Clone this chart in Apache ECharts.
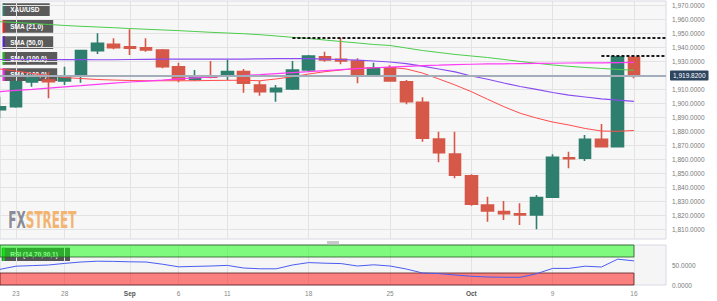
<!DOCTYPE html>
<html><head><meta charset="utf-8">
<script src="https://cdn.jsdelivr.net/npm/echarts@6/dist/echarts.min.js"></script>
<style>html,body{margin:0;padding:0;background:#fff}#c{width:717px;height:301px}</style>
</head><body><div id="c"></div>
<script>
const dates = ['2023-08-22','2023-08-23','2023-08-24','2023-08-25','2023-08-28','2023-08-29','2023-08-30','2023-08-31',
 '2023-09-01','2023-09-04','2023-09-05','2023-09-06','2023-09-07','2023-09-08','2023-09-11','2023-09-12','2023-09-13',
 '2023-09-14','2023-09-15','2023-09-18','2023-09-19','2023-09-20','2023-09-21','2023-09-22','2023-09-25','2023-09-26',
 '2023-09-27','2023-09-28','2023-09-29','2023-10-02','2023-10-03','2023-10-04','2023-10-05','2023-10-06','2023-10-09',
 '2023-10-10','2023-10-11','2023-10-12','2023-10-13','2023-10-16'];
const opens  = [1895.5,1897.6,1915.2,1916.6,1915.9,1920.2,1937.6,1942.1,1940.4,1939.7,1938.1,1926.1,1917.1,1919.5,1919.5,1922.6,1913.1,1908.3,1910.2,1923.8,1933.3,1931.4,1930.2,1920.2,1925.4,1915.4,1900.7,1874.5,1863.8,1848.3,1827.4,1822.6,1821.1,1820.2,1832.9,1861.1,1860.7,1874.3,1869.0,1932.9];
const closes = [1897.5,1915.4,1918.0,1915.4,1919.5,1937.6,1942.9,1939.7,1939.3,1938.1,1926.1,1917.1,1919.5,1918.6,1922.6,1914.3,1908.3,1910.7,1923.8,1933.8,1930.9,1930.2,1920.2,1925.0,1915.9,1901.1,1875.0,1864.7,1848.6,1827.9,1823.1,1821.1,1820.2,1832.6,1861.4,1860.4,1874.3,1869.0,1933.3,1919.8];
const lows   = [1889.3,1896.8,1911.9,1903.6,1913.0,1914.7,1935.2,1938.6,1934.5,1936.9,1925.0,1915.0,1916.1,1917.9,1916.6,1907.6,1905.4,1901.1,1909.5,1922.6,1929.7,1927.9,1914.3,1919.5,1915.4,1899.3,1872.6,1857.9,1846.4,1826.9,1815.4,1816.6,1813.1,1810.0,1832.9,1853.6,1858.8,1869.0,1868.6,1917.9];
const highs  = [1904.7,1916.5,1922.6,1922.6,1926.1,1938.2,1950.0,1946.4,1952.9,1946.4,1938.8,1929.0,1923.8,1930.2,1931.0,1924.5,1916.0,1913.1,1930.2,1934.5,1936.9,1946.9,1932.1,1929.0,1927.1,1916.6,1904.3,1879.7,1879.7,1849.3,1833.3,1830.2,1828.6,1834.5,1863.6,1865.4,1877.4,1885.2,1933.6,1933.3];
const sma21  = [1924.5,1923.1,1921.3,1919.9,1918.4,1917.7,1917.0,1916.6,1916.3,1916.1,1916.1,1916.1,1916.1,1916.3,1916.4,1916.5,1916.1,1917.4,1919.0,1920.9,1922.6,1923.8,1925.0,1925.4,1925.7,1924.5,1921.6,1917.4,1913.1,1908.3,1902.9,1897.6,1892.9,1889.5,1886.6,1884.5,1882.0,1880.2,1880.0,1880.6];
const sma50  = [1931.3,1931.3,1931.3,1931.3,1931.2,1931.2,1931.1,1931.1,1931.3,1931.4,1931.5,1931.6,1931.6,1931.6,1931.6,1931.6,1931.8,1931.9,1932.0,1931.9,1931.6,1931.3,1930.8,1930.2,1929.5,1928.4,1926.6,1924.5,1922.4,1919.5,1917.2,1914.5,1912.0,1909.9,1907.7,1905.9,1904.5,1903.1,1902.2,1901.4];
const sma100 = [1958.3,1957.7,1957.0,1956.3,1955.6,1955.0,1954.5,1954.0,1953.4,1952.9,1952.4,1951.9,1951.3,1950.7,1950.2,1949.7,1949.0,1948.1,1947.1,1946.3,1945.2,1944.1,1943.1,1942.0,1941.3,1939.5,1937.7,1936.3,1934.9,1933.8,1932.7,1931.3,1929.9,1928.6,1927.4,1926.4,1925.6,1924.9,1924.2,1923.6];
const sma200 = [1908.3,1909.2,1910.0,1910.9,1911.8,1912.6,1913.5,1914.4,1915.2,1915.9,1916.6,1917.4,1918.1,1918.8,1919.4,1919.9,1920.5,1921.2,1921.9,1922.6,1923.4,1924.1,1924.8,1925.4,1925.9,1926.4,1926.9,1927.2,1927.6,1927.9,1928.1,1928.2,1928.4,1928.5,1928.6,1928.8,1928.9,1928.9,1929.1,1929.2];
const rsi    = [39,47,48.5,50,54,57.5,59.5,59,58,57.5,52,45.5,46.5,47.5,49,42.5,40.5,40.5,50,56,54.5,53.5,47.5,50.5,47.5,40,30,28.5,25,21.8,20,19.3,19.2,28,41.5,41.5,47,45,64.6,60.3];
const xTickIdx  = [1,4,8,11,14,19,24,29,34,39];
const xTickText = ['23','28','Sep','6','11','18','25','Oct','9','16'];
const yTicks = [1810,1820,1830,1840,1850,1860,1870,1880,1890,1900,1910,1920,1930,1940,1950,1960,1970];
const rsiTicks = [0,50];
const lastPrice = 1919.82;
const levelStart = [18,37];
const levelValue = [1947,1934];
const legendNames = ['XAU/USD','SMA (21,0)','SMA (50,0)','SMA (100,0)','SMA (200,0)'];

function fmt(v){const s=Number(v).toFixed(4).split('.');return s[0].replace(/\B(?=(\d{3})+(?!\d))/g,',')+'.'+s[1];}

const FONT='"Liberation Sans", Arial, sans-serif';
const xMin=0.02, xMax=40.97;
const BULL='#2f7f6e', BEAR='#d65848';
const legendColors=[BULL,'#ff1a1a','#5b1fd6','#16c016','#ff22ff'];
const legendW=[47,50.5,50.5,54.5,54.5];
const legendY=[3.3,20,36.2,52,68.3];

const chart=echarts.init(document.getElementById('c'),null,{renderer:'svg'});
const lvlLines = levelStart.map((s,k)=>[{coord:[s,levelValue[k]]},{coord:[xMax,levelValue[k]]}]);

const graphic=[];
legendNames.forEach((n,k)=>{
  graphic.push({type:'group',left:2.7,top:legendY[k],z:100,children:[
    {type:'rect',shape:{x:0,y:0,width:legendW[k],height:12.7},style:{fill:'rgba(50,50,50,0.8)'}},
    {type:'rect',shape:{x:0,y:0,width:2,height:12.7},style:{fill:legendColors[k]}},
    {type:'text',x:7.5,y:6.5,style:{text:n,fill:'#fff',font:'bold 6.5px '+FONT,textVerticalAlign:'middle',verticalAlign:'middle'}}
  ]});
});
graphic.push({type:'group',left:1.7,top:247.7,z:100,children:[
  {type:'rect',shape:{x:0,y:0,width:68.3,height:13.3},style:{fill:'rgba(50,50,50,0.82)'}},
  {type:'rect',shape:{x:1,y:0,width:2,height:13.3},style:{fill:'#00e000'}},
  {type:'text',x:8.5,y:6.8,style:{text:'RSI (14,70,30,1)',fill:'#fff',font:'bold 6.5px '+FONT,verticalAlign:'middle'}}
]});
graphic.push({type:'text',left:8.3,top:209,z:50,scaleX:0.58,style:{
  text:'{a|FX}{b|STREET}',rich:{a:{fill:'#8b8b95',font:'bold 23px "DejaVu Sans Condensed", "DejaVu Sans", sans-serif'},b:{fill:'#f2b470',font:'bold 23px "DejaVu Sans Condensed", "DejaVu Sans", sans-serif'}}}});
graphic.push({type:'rect',left:327,top:241,z:50,shape:{width:12,height:3.3},style:{fill:'#c8c8c8'}});

const lineS=(name,data,color,w)=>({name,type:'line',xAxisIndex:0,yAxisIndex:0,data:data.map((v,i)=>[i,v]),symbol:'none',
  lineStyle:{color,width:w},itemStyle:{color},silent:true,z:3});

chart.setOption({
  animation:false,
  textStyle:{fontFamily:FONT},
  grid:[
    {left:0,top:1,width:666,height:238,show:true,backgroundColor:'#f7f7f7',borderColor:'#d6dae4',borderWidth:1},
    {left:0,top:245,width:666,height:40,show:true,backgroundColor:'#f5f5f5',borderColor:'#d6dae4',borderWidth:1}
  ],
  xAxis:[
    {type:'value',gridIndex:0,min:xMin,max:xMax,axisLine:{show:false},axisTick:{show:false,customValues:xTickIdx},
     axisLabel:{show:false,customValues:xTickIdx},splitLine:{show:true,lineStyle:{color:'#e3e3e3',width:1}}},
    {type:'value',gridIndex:1,min:xMin,max:xMax,axisLine:{show:false},axisTick:{show:false,customValues:xTickIdx},
     axisLabel:{show:true,customValues:xTickIdx,margin:5,fontSize:6.5,color:'#888',fontFamily:FONT,
       formatter:v=>{const t=xTickText[xTickIdx.indexOf(Math.round(v))]||'';return /^[A-Z]/.test(t)?'{m|'+t+'}':t;},
       rich:{m:{fontSize:6.5,fontWeight:'bold',color:'#555',fontFamily:FONT}}},
     splitLine:{show:true,lineStyle:{color:'#e3e3e3',width:1}}}
  ],
  yAxis:[
    {type:'value',gridIndex:0,position:'right',min:1803.07,max:1973.07,axisLine:{show:false},
     axisTick:{show:false,customValues:yTicks},
     axisLabel:{customValues:yTicks,formatter:fmt,fontSize:6.5,color:'#7a7a7a',margin:6,fontFamily:FONT},
     splitLine:{show:true,lineStyle:{color:'#e3e3e3',width:1}}},
    {type:'value',gridIndex:1,position:'right',min:0,max:100,axisLine:{show:false},
     axisTick:{show:false,customValues:rsiTicks},
     axisLabel:{customValues:rsiTicks,formatter:fmt,fontSize:6.5,color:'#7a7a7a',margin:6,fontFamily:FONT},
     splitLine:{show:false}}
  ],
  series:[
    {name:'XAU/USD',type:'candlestick',xAxisIndex:0,yAxisIndex:0,clip:false,barWidth:12,z:2,
     data:dates.map((d,i)=>[i,opens[i],closes[i],lows[i],highs[i]]),encode:{x:0,y:[1,2,3,4]},
     itemStyle:{color:BULL,color0:BEAR,borderColor:BULL,borderColor0:BEAR,borderWidth:1.6},
     markLine:{silent:true,symbol:['none','none'],animation:false,z:4,
       data:[
         {yAxis:lastPrice,lineStyle:{color:'#a4adba',width:2,type:'solid'},
          label:{show:true,position:'end',distance:4,formatter:fmt(lastPrice),color:'#fff',backgroundColor:'#2e4560',
                 padding:[1.5,3,1.5,3],fontSize:6.5,fontFamily:FONT,borderRadius:1}},
         ...lvlLines.map(l=>[{...l[0],lineStyle:{color:'#1a1a1a',width:2,type:[3,2]},label:{show:false}},l[1]])
       ]}},
    lineS('SMA (21,0)',sma21,'#ff4c4c',1),
    lineS('SMA (50,0)',sma50,'#8a4cf0',1.2),
    lineS('SMA (100,0)',sma100,'#4ccc4c',1),
    lineS('SMA (200,0)',sma200,'#ff3cf5',1.2),
    {name:'RSI',type:'line',xAxisIndex:1,yAxisIndex:1,symbol:'none',silent:true,
     data:rsi.map((v,i)=>[i,v]),lineStyle:{color:'#4a5cf2',width:1},itemStyle:{color:'#4a5cf2'},z:3,
     markArea:{silent:true,data:[
       [{coord:[xMin,70],itemStyle:{color:'rgba(10,255,10,0.5)',borderColor:'rgba(40,90,40,0.8)',borderWidth:1}},{coord:[39,100]}],
       [{coord:[xMin,0],itemStyle:{color:'rgba(255,10,10,0.5)',borderColor:'rgba(90,30,30,0.8)',borderWidth:1}},{coord:[39,30]}]
     ]}}
  ],
  graphic
});
</script></body></html>
